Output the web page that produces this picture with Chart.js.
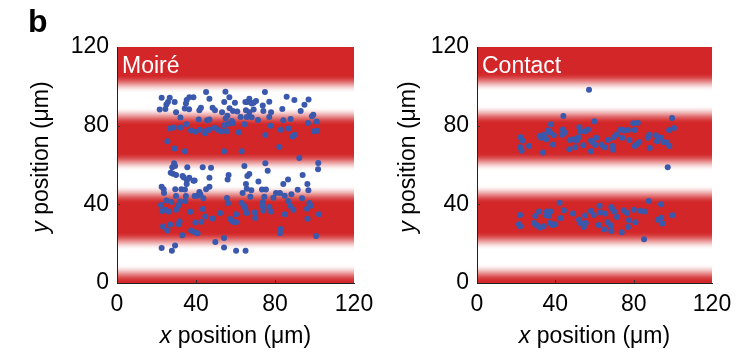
<!DOCTYPE html>
<html>
<head>
<meta charset="utf-8">
<script src="https://cdn.jsdelivr.net/npm/chart.js@4/dist/chart.umd.min.js"></script>
<style>
  html, body { margin: 0; padding: 0; background: #fff; }
  #wrap { position: relative; width: 750px; height: 353px; overflow: hidden; }
  #wrap canvas { position: absolute; top: 0; }
  #panelLabel { position: absolute; left: 28px; top: 3px; font: bold 32px "Liberation Sans", Arial, sans-serif; color: #000; }
</style>
</head>
<body>
<div id="wrap">
  <canvas id="moire" width="375" height="353" style="left:0px"></canvas>
  <canvas id="contact" width="375" height="353" style="left:375px"></canvas>
  <div id="panelLabel">b</div>
</div>
<script>
// Axis ticks (µm)
const tickValues = [0, 40, 80, 120];

// Moiré trap: particle positions (µm)
const moireX = [
  45.1, 54.9, 74.9, 22.6, 26.7, 36.6, 38.7, 46.8, 56.9, 85.9,
  89.8, 97.0, 67.0, 66.0, 69.2, 70.4, 25.8, 29.2, 25.0, 35.3,
  34.9, 54.3, 59.7, 65.0, 68.2, 77.1, 73.8, 94.9, 21.6, 24.5,
  29.9, 34.3, 36.5, 41.7, 42.5, 48.4, 49.6, 53.2, 57.0, 58.7,
  60.9, 65.3, 67.0, 69.2, 74.1, 78.0, 83.7, 93.0, 99.4, 98.7,
  32.1, 41.4, 45.6, 46.8, 55.9, 55.0, 58.2, 62.6, 65.7, 68.2,
  71.4, 77.1, 84.2, 87.9, 101.1, 96.7, 26.8, 28.7, 32.1, 35.3,
  37.5, 39.7, 41.9, 44.6, 45.4, 46.8, 49.5, 51.1, 52.7, 55.5,
  54.3, 56.5, 58.7, 61.6, 64.6, 77.8, 75.1, 82.9, 86.8, 90.0,
  88.9, 99.7, 101.3, 25.5, 29.2, 34.4, 54.2, 63.1, 82.2, 92.3,
  28.9, 29.4, 28.0, 35.6, 43.4, 47.6, 64.5, 75.1, 76.3, 101.9,
  101.8, 94.0, 27.2, 28.4, 29.9, 33.2, 33.8, 36.6, 39.3, 46.8,
  56.5, 56.0, 67.0, 66.0, 65.3, 71.6, 86.6, 84.2, 96.4, 35.4,
  38.7, 22.6, 23.6, 23.8, 29.5, 32.6, 35.3, 34.4, 41.7, 42.2,
  40.8, 45.1, 46.8, 63.6, 65.7, 68.0, 73.4, 75.4, 80.5, 82.5,
  84.9, 88.3, 91.5, 96.9, 29.9, 34.9, 39.3, 34.6, 25.1, 27.5,
  31.9, 43.7, 55.7, 56.2, 63.1, 64.3, 67.5, 73.9, 74.6, 79.2,
  86.6, 93.7, 97.4, 22.3, 22.8, 24.5, 26.2, 31.2, 29.9, 37.1,
  43.5, 52.2, 60.3, 65.0, 65.7, 69.7, 70.0, 73.6, 74.1, 77.1,
  78.0, 84.9, 87.6, 89.3, 96.2, 98.1, 102.3, 96.5, 23.3, 25.5,
  27.0, 31.7, 31.2, 39.7, 42.7, 44.7, 48.4, 57.4, 58.7, 60.3,
  37.6, 39.3, 40.8, 33.1, 82.9, 82.5, 100.8, 29.4, 22.6, 27.8,
  49.8, 54.2, 54.2, 60.3, 65.1
];
const moireY = [
  97.1, 97.3, 97.1, 94.2, 94.2, 94.4, 94.5, 93.7, 94.5, 94.7,
  93.0, 93.3, 93.7, 92.0, 91.6, 92.5, 92.0, 92.0, 90.8, 93.0,
  91.3, 92.0, 91.6, 92.0, 91.3, 92.1, 90.3, 90.6, 88.2, 88.5,
  86.8, 88.7, 88.4, 87.9, 89.1, 89.1, 87.9, 86.8, 88.9, 87.5,
  87.2, 87.9, 86.8, 88.2, 87.4, 86.8, 88.5, 87.4, 85.5, 84.8,
  84.1, 83.1, 82.7, 83.1, 85.1, 83.6, 82.4, 84.4, 84.4, 84.3,
  82.9, 84.4, 82.7, 83.4, 82.1, 81.4, 78.6, 79.1, 79.1, 80.7,
  77.6, 76.9, 77.9, 76.2, 77.6, 77.9, 79.0, 77.9, 77.1, 77.1,
  80.2, 81.0, 81.4, 76.6, 80.7, 80.0, 75.2, 77.9, 78.6, 75.4,
  74.5, 77.1, 77.4, 72.1, 68.4, 67.0, 67.0, 67.0, 69.1, 63.6,
  60.9, 59.5, 58.8, 58.8, 58.8, 58.6, 59.5, 60.9, 57.1, 61.0,
  57.8, 54.9, 56.1, 55.6, 54.9, 54.4, 53.7, 53.5, 52.1, 53.5,
  54.9, 52.6, 55.4, 54.4, 50.3, 51.6, 52.6, 50.3, 50.3, 52.3,
  52.0, 48.9, 47.7, 45.8, 47.7, 47.7, 50.3, 47.5, 46.3, 45.1,
  44.4, 47.7, 48.9, 45.8, 47.9, 47.2, 47.5, 47.5, 45.8, 45.8,
  44.4, 45.1, 47.4, 47.2, 44.3, 44.3, 44.3, 41.7, 41.9, 41.2,
  41.4, 43.1, 43.2, 40.7, 40.7, 39.1, 43.8, 41.2, 43.8, 43.4,
  41.7, 43.1, 40.7, 39.7, 36.6, 37.3, 36.4, 39.5, 37.3, 36.2,
  37.6, 35.6, 35.0, 37.6, 35.6, 35.9, 33.0, 39.1, 36.9, 38.6,
  36.4, 35.0, 39.3, 37.3, 37.8, 39.3, 34.9, 32.7, 28.7, 26.7,
  29.7, 31.3, 29.9, 30.8, 31.1, 33.8, 32.8, 32.5, 31.1, 30.9,
  26.7, 25.8, 25.3, 24.3, 27.5, 25.3, 23.9, 19.1, 17.8, 16.4,
  20.9, 22.9, 18.1, 16.4, 16.4
];

// Contact trap: particle positions (µm)
const contactX = [
  57.2, 97.4, 85.3,
  44.1, 99.6, 59.9, 37.8, 79.8, 82.1, 100.6, 52.3, 56.7, 73.4,
  75.1, 77.1, 80.5, 98.1, 43.8, 36.4, 37.3, 34.2, 32.0, 32.7,
  22.3, 23.2, 44.9, 52.8, 55.3, 71.5, 69.8, 74.2, 88.0, 91.2,
  92.4, 94.0, 87.2, 77.8, 66.9, 60.9, 58.2, 47.3, 49.4, 50.7,
  51.9, 39.2, 43.4, 35.4, 38.8, 26.6, 22.1, 22.8, 33.7, 47.2,
  50.2, 54.3, 59.1, 60.4, 58.2, 63.5, 65.2, 69.3, 69.5, 80.5,
  81.7, 82.9, 88.2, 95.2, 97.0, 98.2, 91.9,
  42.2, 87.7, 94.0, 22.0, 21.4, 22.1, 29.8, 31.7, 35.7, 37.5,
  35.1, 36.6, 44.4, 42.7, 49.0, 55.2, 58.2, 59.6, 62.6, 63.0,
  65.5, 68.6, 69.5, 70.1, 71.5, 74.9, 76.6, 80.0, 83.4, 85.5,
  92.3, 94.1, 94.7, 99.8, 29.1, 30.6, 32.2, 34.0, 37.3, 38.6,
  40.0, 52.1, 52.8, 54.5, 55.5, 62.1, 66.7, 68.4, 64.9, 68.6,
  73.9, 77.1, 77.6, 80.9
];
const contactY = [
  98.2, 58.9, 22.3,
  84.9, 83.9, 82.2, 80.7, 81.2, 81.5, 78.8, 79.2, 78.1, 78.1,
  77.5, 77.8, 77.8, 77.8, 78.1, 77.5, 76.5, 75.4, 74.8, 73.8,
  74.1, 72.4, 76.5, 77.1, 77.1, 75.6, 74.1, 73.8, 75.4, 75.1,
  74.1, 73.8, 73.8, 72.7, 72.7, 73.8, 72.4, 72.7, 73.1, 72.4,
  74.1, 75.1, 75.4, 73.1, 70.4, 69.7, 69.0, 67.3, 66.3, 68.0,
  69.0, 70.0, 71.4, 70.2, 67.0, 70.4, 69.0, 69.7, 67.7, 69.7,
  70.7, 71.7, 68.7, 71.7, 71.4, 69.7, 72.1,
  40.8, 41.7, 40.0, 34.6, 29.9, 28.9, 34.1, 36.3, 36.3, 36.3,
  34.6, 34.1, 37.0, 33.1, 35.4, 34.3, 36.6, 34.6, 39.3, 35.9,
  35.4, 38.7, 37.3, 36.3, 33.6, 37.0, 35.6, 37.3, 36.8, 36.3,
  32.2, 33.2, 30.2, 34.4, 30.5, 29.2, 28.2, 28.9, 30.5, 29.5,
  29.9, 32.2, 30.5, 28.5, 30.5, 29.5, 30.9, 29.2, 27.2, 26.5,
  25.8, 28.5, 31.9, 30.9
];

// Centres of the low-intensity (white) bands of the trap pattern (µm)
const moireWhiteBands = [13.0, 53.3, 93.0];
const contactWhiteBands = [13.3, 53.4, 93.9];

const FONT = '"Liberation Sans", Arial, sans-serif';
const RED = [210, 38, 40];
const DOT = 'rgb(58, 88, 172)';

function bandColor(v, centres) {
  let d = Infinity;
  for (const c of centres) d = Math.min(d, Math.abs(v - c));
  const core = 3.5, edge = 9.5;
  let w;
  if (d <= core) w = 1;
  else if (d >= core + edge) w = 0;
  else w = 0.5 + 0.5 * Math.cos(Math.PI * (d - core) / edge);
  const c = RED.map(ch => Math.round(ch + (255 - ch) * w));
  return `rgb(${c[0]},${c[1]},${c[2]})`;
}

function drawMixedText(ctx, parts, cx, cy, angle) {
  ctx.save();
  ctx.translate(cx, cy);
  ctx.rotate(angle);
  ctx.textBaseline = 'middle';
  ctx.textAlign = 'left';
  ctx.fillStyle = '#000';
  const widths = parts.map(p => { ctx.font = p.font; return ctx.measureText(p.text).width; });
  let x = -widths.reduce((a, b) => a + b, 0) / 2;
  parts.forEach((p, i) => { ctx.font = p.font; ctx.fillText(p.text, x, 0); x += widths[i]; });
  ctx.restore();
}

const panelDecor = {
  id: 'panelDecor',
  beforeDraw(chart, args, opts) {
    const { ctx, chartArea: a, scales: { y } } = chart;
    const p0 = y.getPixelForValue(y.min), p1 = y.getPixelForValue(y.max);
    const g = ctx.createLinearGradient(0, p0, 0, p1);
    for (let v = y.min; v <= y.max; v += 0.5) {
      g.addColorStop((v - y.min) / (y.max - y.min), bandColor(v, opts.bands));
    }
    ctx.save();
    ctx.fillStyle = g;
    ctx.fillRect(a.left, a.top, a.right - a.left, a.bottom - a.top);
    ctx.restore();
  },
  afterDraw(chart, args, opts) {
    const { ctx, chartArea: a, scales: { x, y } } = chart;
    ctx.save();
    // inward tick marks
    ctx.strokeStyle = '#333';
    ctx.lineWidth = 1;
    ctx.beginPath();
    tickValues.forEach(v => {
      if (v > x.min && v < x.max) {
        const px = Math.round(x.getPixelForValue(v)) + 0.5;
        ctx.moveTo(px, a.bottom); ctx.lineTo(px, a.bottom - 3);
      }
      if (v > y.min && v < y.max) {
        const py = Math.round(y.getPixelForValue(v)) + 0.5;
        ctx.moveTo(a.left, py); ctx.lineTo(a.left + 3, py);
      }
    });
    ctx.stroke();
    // panel name
    ctx.fillStyle = '#fff';
    ctx.font = `23px ${FONT}`;
    ctx.textBaseline = 'alphabetic';
    ctx.textAlign = 'left';
    ctx.fillText(opts.name, a.left + 5, a.top + 26);
    ctx.restore();
    // axis titles
    const italic = `italic 23px ${FONT}`, upright = `23px ${FONT}`;
    drawMixedText(ctx, [{ text: 'x', font: italic }, { text: ' position (μm)', font: upright }],
      (a.left + a.right) / 2, opts.xTitleY, 0);
    drawMixedText(ctx, [{ text: 'y', font: italic }, { text: ' position (μm)', font: upright }],
      opts.yTitleX, opts.yTitleCenter, -Math.PI / 2);
  }
};

function makePanel(canvasId, xs, ys, decor, axisWidth, padRight) {
  const points = xs.map((v, i) => ({ x: v, y: ys[i] }));
  const axis = (fitProp, fitSize) => ({
    type: 'linear',
    min: 0,
    max: 120,
    afterBuildTicks: s => { s.ticks = tickValues.map(v => ({ value: v })); },
    afterFit: s => {
      s[fitProp] = fitSize;
      // the plot area is set by the layout padding alone
      s.paddingLeft = 0; s.paddingRight = 0; s.paddingTop = 0; s.paddingBottom = 0;
    },
    grid: { display: false, drawTicks: false },
    border: { display: true, color: '#222', width: 1 },
    ticks: { color: '#000', font: { family: FONT, size: 23 }, padding: 8, maxRotation: 0 }
  });
  return new Chart(document.getElementById(canvasId), {
    type: 'scatter',
    data: {
      datasets: [{
        data: points,
        pointRadius: 3,
        pointBackgroundColor: DOT,
        pointBorderWidth: 0,
        pointHoverRadius: 3
      }]
    },
    options: {
      responsive: false,
      animation: false,
      events: [],
      layout: { padding: { top: 47, right: padRight, bottom: 0, left: 0 } },
      plugins: { legend: { display: false }, tooltip: { enabled: false }, panelDecor: decor },
      scales: {
        x: axis('height', 70),
        y: axis('width', axisWidth)
      }
    },
    plugins: [panelDecor]
  });
}

makePanel('moire', moireX, moireY,
  { bands: moireWhiteBands, name: 'Moiré', xTitleY: 337, yTitleX: 42, yTitleCenter: 157 },
  117, 21);
makePanel('contact', contactX, contactY,
  { bands: contactWhiteBands, name: 'Contact', xTitleY: 337, yTitleX: 34, yTitleCenter: 157 },
  102, 38);
</script>
</body>
</html>
